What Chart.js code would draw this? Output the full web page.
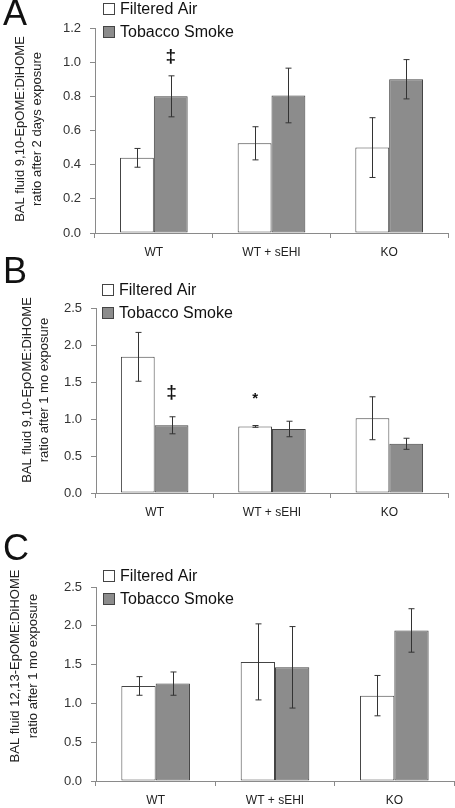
<!DOCTYPE html>
<html>
<head>
<meta charset="utf-8">
<script src="https://cdn.jsdelivr.net/npm/chart.js@4.4.1/dist/chart.umd.min.js"></script>
<style>
    html, body { margin: 0; padding: 0; background: #fff; }
    #wrap { position: relative; width: 455px; height: 808px; overflow: hidden; }
    canvas { position: absolute; left: 0; }
</style>
</head>
<body>
<div id="wrap">
    <canvas id="chartA" width="455" height="257" style="top:0px"></canvas>
    <canvas id="chartB" width="455" height="273" style="top:257px"></canvas>
    <canvas id="chartC" width="455" height="278" style="top:530px"></canvas>
</div>
<script>
// Data
const categories = ['WT', 'WT + sEHI', 'KO'];
const seriesNames = ['Filtered Air', 'Tobacco Smoke'];

// A - 9,10 ratio, 2 days
const airA = [0.44, 0.525, 0.50];
const airErrA = [0.055, 0.097, 0.175];
const smokeA = [0.80, 0.805, 0.90];
const smokeErrA = [0.12, 0.16, 0.115];
const ticksA = [0, 0.2, 0.4, 0.6, 0.8, 1.0, 1.2];

// B - 9,10 ratio, 1 month
const airB = [1.84, 0.90, 1.01];
const airErrB = [0.33, 0.012, 0.29];
const smokeB = [0.915, 0.865, 0.665];
const smokeErrB = [0.115, 0.105, 0.075];
const ticksB = [0, 0.5, 1.0, 1.5, 2.0, 2.5];

// C - 12,13 ratio, 1 month
const airC = [1.225, 1.535, 1.10];
const airErrC = [0.12, 0.49, 0.26];
const smokeC = [1.255, 1.465, 1.94];
const smokeErrC = [0.15, 0.525, 0.28];
const ticksC = [0, 0.5, 1.0, 1.5, 2.0, 2.5];

// significance marks: [category, dataset, value, symbol]
const marksA = [[0, 1, 1.03, '\u2021']];
const marksB = [[0, 1, 1.35, '\u2021'], [1, 0, 1.27, '*']];
const marksC = [];

const FONT = "'Liberation Sans', Arial, sans-serif";
const GREY = '#8c8c8c';
const EDGE = '#444';
const AXIS = '#8a8a8a';

// error bars, legend, panel letter, rotated y title, marks
const decor = {
    id: 'decor',
    afterDatasetsDraw(chart, args, o) {
        const ctx = chart.ctx;
        const y = chart.scales.y;
        ctx.save();
        ctx.strokeStyle = '#333';
        ctx.lineWidth = 1;
        o.errors.forEach((errs, di) => {
            const meta = chart.getDatasetMeta(di);
            const vals = chart.data.datasets[di].data;
            meta.data.forEach((bar, i) => {
                const x = Math.round(bar.x) + 0.5;
                const t = y.getPixelForValue(vals[i] + errs[i]);
                const b = y.getPixelForValue(vals[i] - errs[i]);
                ctx.beginPath();
                ctx.moveTo(x, t); ctx.lineTo(x, b);
                ctx.moveTo(x - 3, t); ctx.lineTo(x + 3, t);
                ctx.moveTo(x - 3, b); ctx.lineTo(x + 3, b);
                ctx.stroke();
            });
        });

        ctx.fillStyle = '#111';
        ctx.textAlign = 'center';
        ctx.textBaseline = 'middle';
        o.marks.forEach(([ci, di, v, s]) => {
            const bar = chart.getDatasetMeta(di).data[ci];
            ctx.font = s === '*' ? 'bold 15px ' + FONT : 'bold 19px ' + FONT;
            ctx.fillText(s, bar.x, y.getPixelForValue(v));
        });

        // legend
        ctx.textAlign = 'left';
        ctx.font = '16px ' + FONT;
        seriesNames.forEach((name, i) => {
            const cy = o.legendY + i * o.legendGap;
            ctx.fillStyle = i === 0 ? '#fff' : GREY;
            ctx.strokeStyle = EDGE;
            ctx.fillRect(o.legendX, cy - 6, 12, 12);
            ctx.strokeRect(o.legendX + 0.5, cy - 5.5, 11, 11);
            ctx.fillStyle = '#111';
            ctx.fillText(name, o.legendX + 17, cy + 1);
        });

        // panel letter
        ctx.font = '36px ' + FONT;
        ctx.textBaseline = 'alphabetic';
        ctx.fillText(o.letter, 3, o.letterY);

        // y title
        ctx.font = '13px ' + FONT;
        ctx.fillStyle = '#222';
        ctx.textAlign = 'center';
        ctx.textBaseline = 'middle';
        o.title.forEach((line, i) => {
            ctx.save();
            ctx.translate(o.titleX + i * o.titleGap, o.titleY);
            ctx.rotate(-Math.PI / 2);
            ctx.fillText(line, 0, 0);
            ctx.restore();
        });
        ctx.restore();
    }
};

function panel(id, air, smoke, errs, ticks, marks, area, extra) {
    const el = document.getElementById(id);
    const H = el.height;
    const step = ticks[1] - ticks[0];
    return new Chart(el.getContext('2d'), {
        type: 'bar',
        data: {
            labels: categories,
            datasets: [
                { label: seriesNames[0], data: air, backgroundColor: '#fff', borderColor: EDGE, borderWidth: 1, borderSkipped: false },
                { label: seriesNames[1], data: smoke, backgroundColor: GREY, borderColor: EDGE, borderWidth: 1, borderSkipped: false }
            ]
        },
        options: {
            responsive: false,
            animation: false,
            layout: { padding: { top: area.top, left: 0, right: 455 - area.right, bottom: 0 } },
            datasets: { bar: { categoryPercentage: 0.575, barPercentage: 1.0 } },
            scales: {
                x: {
                    grid: { drawOnChartArea: false, tickLength: 5, color: AXIS, offset: true },
                    border: { color: AXIS },
                    ticks: { color: '#222', font: { family: FONT, size: 12 }, padding: 7 },
                    afterFit(s) { s.height = H - area.bottom; }
                },
                y: {
                    min: ticks[0],
                    max: ticks[ticks.length - 1],
                    grid: { drawOnChartArea: false, tickLength: 5, color: AXIS },
                    border: { color: AXIS },
                    ticks: {
                        stepSize: step,
                        color: '#333',
                        font: { family: FONT, size: 13 },
                        padding: 9,
                        callback: v => v.toFixed(1)
                    },
                    afterFit(s) { s.width = area.left; }
                }
            },
            plugins: {
                legend: { display: false },
                tooltip: { enabled: false },
                decor: Object.assign({ errors: errs, marks: marks }, extra)
            }
        },
        plugins: [decor]
    });
}

// Panel A
panel('chartA', airA, smokeA, [airErrA, smokeErrA], ticksA, marksA,
    { left: 95, right: 448, top: 28, bottom: 233 },
    { letter: 'A', letterY: 25, legendX: 103, legendY: 9, legendGap: 23,
      title: ['BAL fluid 9,10-EpOME:DiHOME', 'ratio after 2 days exposure'], titleX: 20, titleY: 129, titleGap: 17 });

// Panel B
panel('chartB', airB, smokeB, [airErrB, smokeErrB], ticksB, marksB,
    { left: 96, right: 448, top: 51, bottom: 236 },
    { letter: 'B', letterY: 26, legendX: 102, legendY: 33, legendGap: 23,
      title: ['BAL fluid 9,10-EpOME:DiHOME', 'ratio after 1 mo exposure'], titleX: 27, titleY: 133, titleGap: 17 });

// Panel C
panel('chartC', airC, smokeC, [airErrC, smokeErrC], ticksC, marksC,
    { left: 96, right: 454, top: 57, bottom: 251 },
    { letter: 'C', letterY: 30, legendX: 103, legendY: 46, legendGap: 23,
      title: ['BAL fluid 12,13-EpOME:DiHOME', 'ratio after 1 mo exposure'], titleX: 15, titleY: 136, titleGap: 18 });
</script>
</body>
</html>
